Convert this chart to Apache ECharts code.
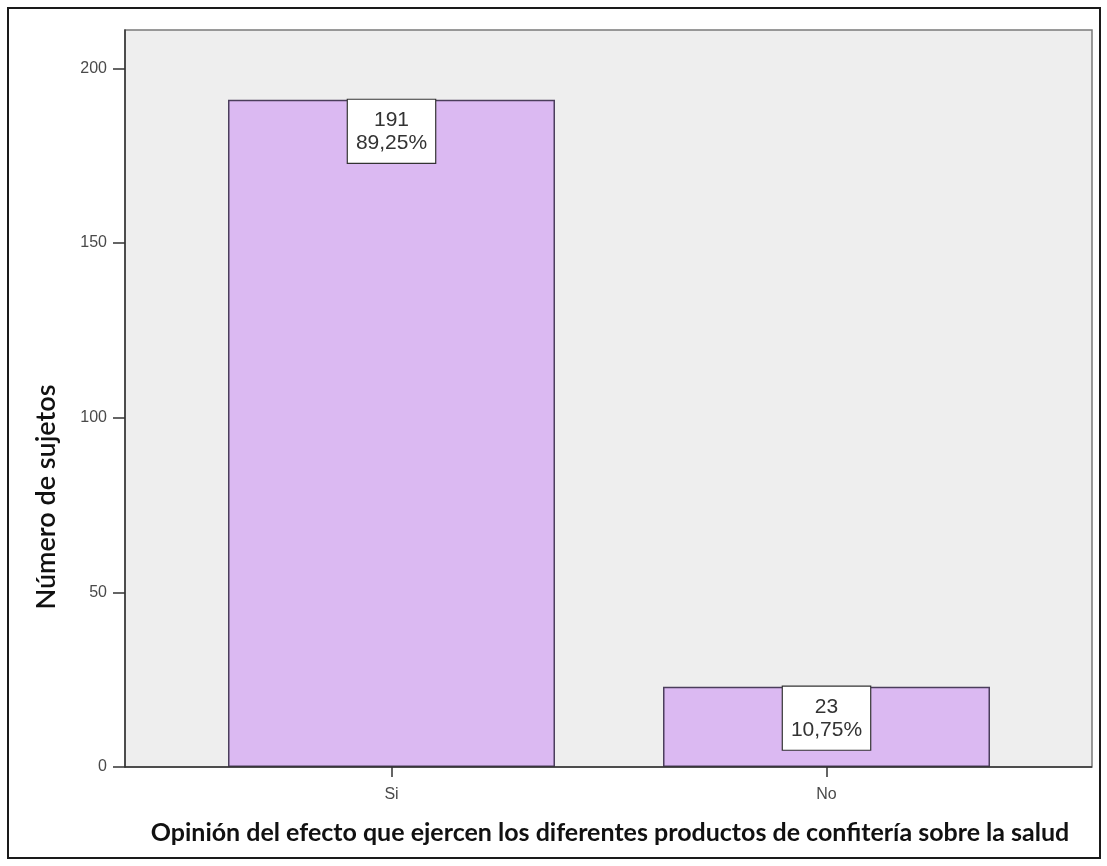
<!DOCTYPE html>
<html>
<head>
<meta charset="utf-8">
<script src="https://cdn.jsdelivr.net/npm/echarts@6/dist/echarts.min.js"></script>
<style>
  html, body { margin: 0; padding: 0; background: #ffffff; }
  #chart { width: 1107px; height: 866px; }
</style>
</head>
<body>
<div id="chart"></div>
<script>
// Respuestas de los sujetos encuestados
const categories = ['Si', 'No'];
const counts = [191, 23];
const percents = ['89,25%', '10,75%'];
const yTicks = [0, 50, 100, 150, 200];

const yMax = 211;
const tickFont = { fontFamily: 'Liberation Sans, Arial, sans-serif', fontSize: 16, color: '#4a4a4a' };

const chart = echarts.init(document.getElementById('chart'));
chart.setOption({
  backgroundColor: '#ffffff',
  animation: false,
  grid: [
    // plot frame with the count axis
    { left: 125, right: 15, top: 30, bottom: 99, show: true, backgroundColor: '#eeeeee', borderColor: '#7a7a7a', borderWidth: 1.5 },
    // bars, spread over the category centres
    { left: 174, right: 63, top: 30, bottom: 99 }
  ],
  xAxis: [
    { gridIndex: 0, type: 'value', min: 0, max: 1, show: false },
    {
      gridIndex: 1, type: 'category', data: categories,
      axisLine: { show: false },
      axisTick: { show: true, alignWithLabel: true, length: 10, lineStyle: { color: '#333', width: 1.5 } },
      axisLabel: Object.assign({ margin: 20 }, tickFont)
    }
  ],
  yAxis: [
    {
      gridIndex: 0, type: 'value', min: 0, max: yMax,
      axisLine: { show: true, lineStyle: { color: '#333', width: 1.5 } },
      axisTick: { show: true, length: 12, customValues: yTicks, lineStyle: { color: '#333', width: 1.5 } },
      splitLine: { show: false },
      axisLabel: Object.assign({ margin: 18, customValues: yTicks }, tickFont)
    },
    { gridIndex: 1, type: 'value', min: 0, max: yMax, show: false, splitLine: { show: false } }
  ],
  graphic: [
    { type: 'rect', shape: { x: 8, y: 8, width: 1092, height: 850 }, style: { fill: 'none', stroke: '#1a1a1a', lineWidth: 2 }, z: 100 },
    { type: 'line', shape: { x1: 125, y1: 767, x2: 1092, y2: 767 }, style: { stroke: '#333', lineWidth: 1.5 }, z: 100 },
    {
      type: 'text', x: 46, y: 497, rotation: Math.PI / 2, z: 100,
      style: { text: 'Número de sujetos', font: '600 27px Lato, sans-serif', fill: '#111', align: 'center', verticalAlign: 'middle' }
    },
    {
      type: 'text', x: 610, y: 833, z: 100,
      style: { text: 'Opinión del efecto que ejercen los diferentes productos de confitería sobre la salud', font: 'bold 25px Lato, sans-serif', fill: '#111', align: 'center', verticalAlign: 'middle' }
    }
  ],
  series: [{
    type: 'bar',
    xAxisIndex: 1, yAxisIndex: 1,
    data: counts,
    barWidth: 327,
    itemStyle: { color: '#dbb9f2', borderColor: '#4b3e5c', borderWidth: 1.5 },
    label: {
      show: true, position: 'insideTop', distance: 0,
      formatter: p => p.value + '\n' + percents[p.dataIndex],
      fontFamily: 'Liberation Sans, Arial, sans-serif', fontSize: 21, color: '#333', lineHeight: 23,
      backgroundColor: '#ffffff', borderColor: '#333', borderWidth: 1.2,
      padding: [9, 8, 8, 8], align: 'center'
    }
  }]
});
</script>
</body>
</html>
